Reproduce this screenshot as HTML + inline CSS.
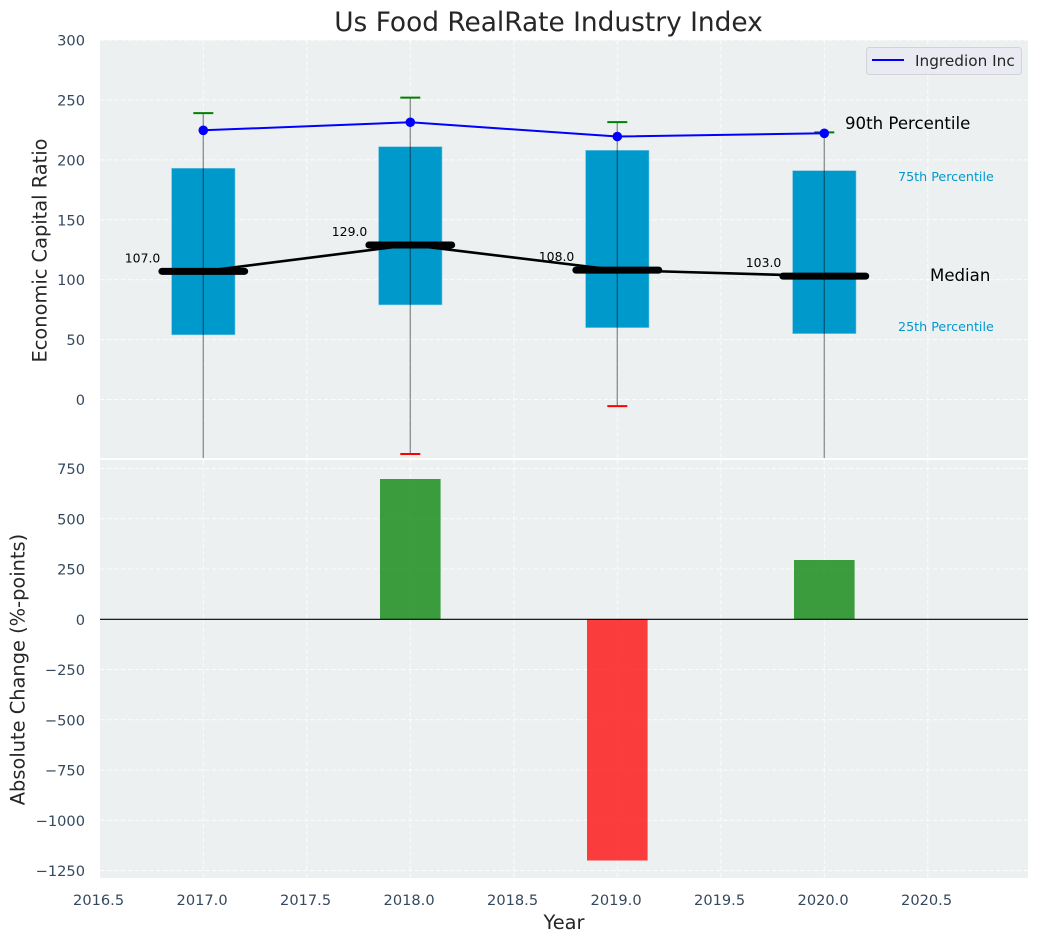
<!DOCTYPE html>
<html>
<head>
<meta charset="utf-8">
<title>Us Food RealRate Industry Index</title>
<style>
html,body{margin:0;padding:0;background:#fff;width:1039px;height:942px;overflow:hidden}
svg{display:block;font-family:"DejaVu Sans","Liberation Sans",sans-serif}
</style>
</head>
<body>
<svg id="chart" xmlns="http://www.w3.org/2000/svg" width="1039" height="942" viewBox="0 0 1039 942">
  <defs>
    <clipPath id="clip-top"><rect x="100" y="40" width="928" height="418"/></clipPath>
    <clipPath id="clip-bottom"><rect x="100" y="460" width="928" height="418"/></clipPath>
  </defs>
  <text x="548.5" y="31" text-anchor="middle" font-size="26.4" fill="#262626">Us Food RealRate Industry Index</text>
  <rect x="100" y="40" width="928" height="418" fill="#ecf0f1"/>
  <rect x="100" y="460" width="928" height="418" fill="#ecf0f1"/>
  <g id="grid-layer"></g>
  <g id="top-layer" clip-path="url(#clip-top)"></g>
  <g id="bottom-layer" clip-path="url(#clip-bottom)"></g>
  <g id="tick-layer"></g>
  <text transform="translate(46.5 250.5) rotate(-90)" text-anchor="middle" font-size="19.4" fill="#262626">Economic Capital Ratio</text>
  <text transform="translate(24.5 669.5) rotate(-90)" text-anchor="middle" font-size="19.4" fill="#262626">Absolute Change (%-points)</text>
  <text x="564" y="929" text-anchor="middle" font-size="19.4" fill="#262626">Year</text>
  <g>
    <rect x="866.5" y="47.5" width="155" height="27" rx="3" fill="#eaeaf2" stroke="#d2d3d8" stroke-width="1"/>
    <line x1="872" y1="60" x2="904" y2="60" stroke="#0000ff" stroke-width="2"/>
    <text x="915" y="66" font-size="15.3" fill="#262626">Ingredion Inc</text>
  </g>
</svg>
<script>
const years = [2017, 2018, 2019, 2020];
const p90Whisker = [239, 252, 231.5, 223];
const p10Whisker = [-60, -45.5, -5.5, -60];
const p75 = [193, 211, 208, 191];
const p25 = [54, 79, 60, 55];
const medians = [107, 129, 108, 103];
const medianLabels = ["107.0", "129.0", "108.0", "103.0"];
const companyValues = [224.7, 231.4, 219.5, 222.2];
const changeYears = [2018, 2019, 2020];
const changeValues = [698, -1200, 295];
const xTicks = [2016.5, 2017, 2017.5, 2018, 2018.5, 2019, 2019.5, 2020, 2020.5];
const xTickLabels = ["2016.5", "2017.0", "2017.5", "2018.0", "2018.5", "2019.0", "2019.5", "2020.0", "2020.5"];
const topYTicks = [0, 50, 100, 150, 200, 250, 300];
const bottomYTicks = [-1250, -1000, -750, -500, -250, 0, 250, 500, 750];

const NS = "http://www.w3.org/2000/svg";
const xScale = v => 203.3 + (v - 2017) * 207;
const yTop = v => 399.5 - v * 1.198;
const yBottom = v => 619.3 - v * 0.201;

function make(tag, parent, attrs, text) {
  const el = document.createElementNS(NS, tag);
  for (const k in attrs) el.setAttribute(k, attrs[k]);
  if (text !== undefined) el.textContent = text;
  parent.appendChild(el);
  return el;
}

const gridLayer = document.getElementById("grid-layer");
const topLayer = document.getElementById("top-layer");
const bottomLayer = document.getElementById("bottom-layer");
const tickLayer = document.getElementById("tick-layer");
const gridStyle = {stroke: "#ffffff", "stroke-width": 1, "stroke-dasharray": "4.5 2.5", opacity: 0.8};

xTicks.forEach((t, i) => {
  const x = xScale(t);
  if (i > 0) {
    const a = make("line", gridLayer, Object.assign({x1: x, x2: x, y1: 40, y2: 458}, gridStyle));
    
    
    const b = make("line", gridLayer, Object.assign({x1: x, x2: x, y1: 460, y2: 878}, gridStyle));
    
    
  }
  const lbl = make("text", tickLayer, {x: x - 1.2, y: 905, "text-anchor": "middle", "font-size": 14.6, fill: "#34495e"}, xTickLabels[i]);
  
  
});

topYTicks.forEach(t => {
  const y = yTop(t);
  const g = make("line", gridLayer, Object.assign({x1: 100, x2: 1028, y1: y, y2: y}, gridStyle));
  
  
  const lbl = make("text", tickLayer, {x: 85, y: y + 5.5, "text-anchor": "end", "font-size": 14.6, fill: "#34495e"}, String(t));
  
  
});

bottomYTicks.forEach(t => {
  const y = yBottom(t);
  const g = make("line", gridLayer, Object.assign({x1: 100, x2: 1028, y1: y, y2: y}, gridStyle));
  
  
  const lbl = make("text", tickLayer, {x: 85, y: y + 5.5, "text-anchor": "end", "font-size": 14.6, fill: "#34495e"}, String(t).replace("-", "\u2212"));
  
  
});

/* Top panel: interquartile boxes */
years.forEach((yr, i) => {
  const top = yTop(p75[i]);
  const r = make("rect", topLayer, {x: xScale(yr) - 31.7, y: top, width: 63.4, height: yTop(p25[i]) - top, fill: "#0099cc", stroke: "#7cc6e0", "stroke-width": 0.6});
  
  
});

/* Top panel: whiskers and caps */
years.forEach((yr, i) => {
  const x = xScale(yr);
  const w = make("line", topLayer, {x1: x, x2: x, y1: yTop(p90Whisker[i]), y2: yTop(p10Whisker[i]), stroke: "#000", "stroke-opacity": 0.4, "stroke-width": 1.4});
  
  
  const hi = make("line", topLayer, {x1: x - 10, x2: x + 10, y1: yTop(p90Whisker[i]), y2: yTop(p90Whisker[i]), stroke: "#008000", "stroke-width": 2});
  
  
  const lo = make("line", topLayer, {x1: x - 10, x2: x + 10, y1: yTop(p10Whisker[i]), y2: yTop(p10Whisker[i]), stroke: "#ff0000", "stroke-width": 2});
  
  
});

/* Top panel: median line, company line */
const medLine = make("polyline", topLayer, {points: years.map((yr, i) => xScale(yr) + "," + yTop(medians[i])).join(" "), fill: "none", stroke: "#000", "stroke-width": 2.6});



years.forEach((yr, i) => {
  const x = xScale(yr), y = yTop(medians[i]);
  const m = make("line", topLayer, {x1: x - 41.4, x2: x + 41.4, y1: y, y2: y, stroke: "#000", "stroke-width": 7, "stroke-linecap": "round"});
  
  
  const t = make("text", topLayer, {x: x - 78.5, y: y - 9, "font-size": 12.4, fill: "#000"}, medianLabels[i]);
  
  
});

const coLine = make("polyline", topLayer, {points: years.map((yr, i) => xScale(yr) + "," + yTop(companyValues[i])).join(" "), fill: "none", stroke: "#0000ff", "stroke-width": 2});



years.forEach((yr, i) => {
  const c = make("circle", topLayer, {cx: xScale(yr), cy: yTop(companyValues[i]), r: 4.8, fill: "#0000ff"});
  
  
});

/* Top panel: annotations */
const a90 = make("text", topLayer, {x: 845, y: 129, "font-size": 16.6, fill: "#000"}, "90th Percentile");


const a75 = make("text", topLayer, {x: 898, y: 181, "font-size": 12.7, fill: "#0099cc"}, "75th Percentile");


const aMed = make("text", topLayer, {x: 930, y: 281, "font-size": 16.6, fill: "#000"}, "Median");


const a25 = make("text", topLayer, {x: 898, y: 331, "font-size": 12.7, fill: "#0099cc"}, "25th Percentile");



/* Bottom panel: bars */
changeYears.forEach((yr, i) => {
  const v = changeValues[i];
  const y0 = yBottom(0), y1 = yBottom(v);
  const b = make("rect", bottomLayer, {x: xScale(yr) - 30.3, y: Math.min(y0, y1), width: 60.6, height: Math.abs(y1 - y0), fill: v >= 0 ? "#008000" : "#ff0000", "fill-opacity": 0.75});
  
  
});
const zero = make("line", bottomLayer, {x1: 100, x2: 1028, y1: yBottom(0), y2: yBottom(0), stroke: "#000", "stroke-width": 1.1});


</script>
</body>
</html>
